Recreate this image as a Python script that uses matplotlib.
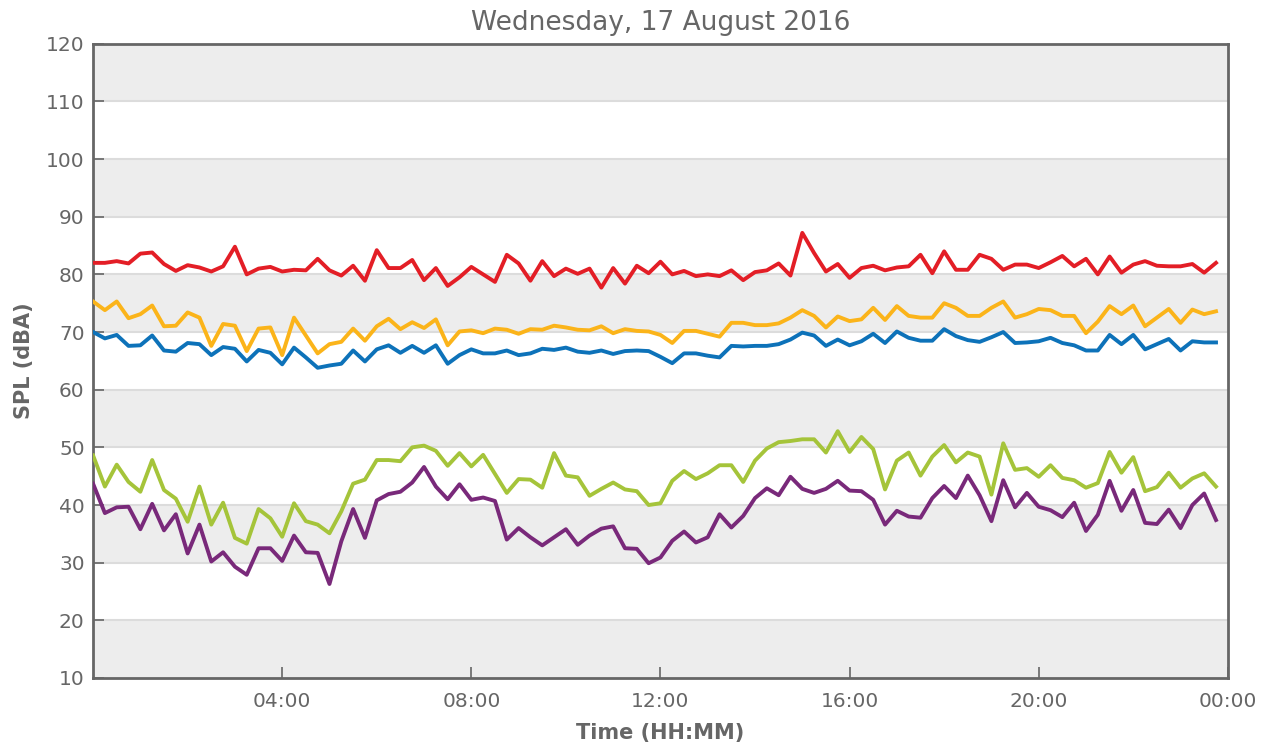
import numpy as np
import matplotlib.pyplot as plt

# 15-minute samples, 00:00 .. 23:45
hours = np.arange(96) * 0.25

red = [82.0, 82.0, 82.3, 81.9, 83.6, 83.8, 81.8, 80.6, 81.6, 81.2,
       80.5, 81.4, 84.8, 80.0, 81.0, 81.3, 80.5, 80.8, 80.7, 82.7,
       80.7, 79.8, 81.5, 78.9, 84.2, 81.1, 81.1, 82.5, 79.0, 81.1,
       78.0, 79.5, 81.3, 80.0, 78.7, 83.4, 81.9, 78.9, 82.3, 79.7,
       81.0, 80.1, 81.0, 77.7, 81.1, 78.4, 81.5, 80.2, 82.2, 80.0,
       80.6, 79.7, 80.0, 79.7, 80.7, 79.0, 80.4, 80.7, 81.9, 79.8,
       87.2, 83.7, 80.5, 81.8, 79.4, 81.1, 81.5, 80.7, 81.2, 81.4,
       83.4, 80.2, 84.0, 80.8, 80.8, 83.4, 82.7, 80.8, 81.7, 81.7,
       81.1, 82.1, 83.2, 81.4, 82.7, 80.0, 83.1, 80.3, 81.7, 82.3,
       81.5, 81.4, 81.4, 81.8, 80.3, 82.0]

yellow = [75.3, 73.8, 75.3, 72.4, 73.1, 74.6, 71.0, 71.1, 73.4, 72.5,
          67.6, 71.4, 71.1, 66.7, 70.6, 70.8, 66.0, 72.5, 69.4, 66.3,
          67.9, 68.3, 70.6, 68.5, 71.0, 72.3, 70.5, 71.7, 70.7, 72.2,
          67.7, 70.1, 70.3, 69.8, 70.6, 70.4, 69.7, 70.5, 70.4, 71.1,
          70.8, 70.4, 70.3, 71.0, 69.8, 70.5, 70.2, 70.1, 69.5, 68.1,
          70.2, 70.2, 69.7, 69.2, 71.6, 71.6, 71.2, 71.2, 71.5, 72.5,
          73.8, 72.8, 70.8, 72.7, 71.9, 72.2, 74.2, 72.1, 74.5, 72.8,
          72.5, 72.5, 75.0, 74.2, 72.8, 72.8, 74.2, 75.3, 72.5, 73.1,
          74.0, 73.8, 72.8, 72.8, 69.8, 71.8, 74.5, 73.1, 74.6, 71.0,
          72.5, 74.0, 71.6, 73.9, 73.1, 73.6]

blue = [70.0, 68.9, 69.5, 67.6, 67.7, 69.4, 66.8, 66.6, 68.1, 67.9,
        66.0, 67.4, 67.1, 64.9, 66.9, 66.4, 64.4, 67.3, 65.6, 63.8,
        64.2, 64.5, 66.8, 64.9, 67.0, 67.7, 66.4, 67.6, 66.4, 67.7,
        64.5, 66.0, 67.0, 66.3, 66.3, 66.8, 66.0, 66.3, 67.1, 66.9,
        67.3, 66.6, 66.4, 66.8, 66.2, 66.7, 66.8, 66.7, 65.7, 64.6,
        66.3, 66.3, 65.9, 65.6, 67.6, 67.5, 67.6, 67.6, 67.9, 68.7,
        69.9, 69.4, 67.6, 68.7, 67.7, 68.4, 69.7, 68.1, 70.1, 69.0,
        68.5, 68.5, 70.5, 69.3, 68.6, 68.3, 69.1, 70.0, 68.1, 68.2,
        68.4, 69.0, 68.1, 67.7, 66.8, 66.8, 69.5, 67.9, 69.5, 67.0,
        67.9, 68.8, 66.8, 68.4, 68.2, 68.2]

green = [48.6, 43.2, 47.0, 44.0, 42.3, 47.8, 42.6, 41.1, 37.1, 43.2,
         36.6, 40.4, 34.3, 33.3, 39.3, 37.7, 34.5, 40.3, 37.2, 36.6,
         35.1, 38.9, 43.7, 44.4, 47.8, 47.8, 47.6, 50.0, 50.3, 49.4,
         46.8, 49.0, 46.7, 48.7, 45.4, 42.1, 44.5, 44.4, 43.0, 49.0,
         45.1, 44.8, 41.6, 42.8, 43.9, 42.7, 42.4, 40.0, 40.3, 44.2,
         45.9, 44.5, 45.5, 46.9, 46.9, 44.0, 47.7, 49.8, 50.9, 51.1,
         51.4, 51.4, 49.1, 52.8, 49.2, 51.8, 49.7, 42.7, 47.7, 49.1,
         45.1, 48.4, 50.4, 47.4, 49.1, 48.4, 41.8, 50.7, 46.1, 46.4,
         44.9, 46.9, 44.7, 44.3, 43.0, 43.8, 49.2, 45.6, 48.3, 42.4,
         43.1, 45.6, 43.0, 44.6, 45.5, 43.2]

purple = [43.7, 38.6, 39.6, 39.7, 35.8, 40.2, 35.6, 38.4, 31.6, 36.6,
          30.2, 31.8, 29.3, 27.9, 32.5, 32.5, 30.3, 34.7, 31.8, 31.7,
          26.3, 33.7, 39.3, 34.3, 40.8, 41.9, 42.3, 43.9, 46.6, 43.2,
          41.0, 43.6, 40.9, 41.3, 40.7, 34.0, 36.0, 34.4, 33.0, 34.4,
          35.8, 33.1, 34.7, 35.9, 36.3, 32.5, 32.4, 29.9, 30.9, 33.8,
          35.4, 33.5, 34.4, 38.4, 36.1, 38.1, 41.2, 42.9, 41.7, 44.9,
          42.8, 42.1, 42.8, 44.2, 42.5, 42.4, 40.9, 36.6, 39.0, 38.0,
          37.8, 41.2, 43.3, 41.2, 45.1, 41.7, 37.2, 44.3, 39.6, 42.1,
          39.7, 39.1, 37.9, 40.4, 35.5, 38.3, 44.2, 39.0, 42.6, 36.9,
          36.7, 39.2, 36.0, 40.0, 42.0, 37.4]

x_ticks = [4, 8, 12, 16, 20, 24]
x_labels = ["04:00", "08:00", "12:00", "16:00", "20:00", "00:00"]

grey = "#666666"

fig = plt.figure(figsize=(12.75, 7.47), dpi=100)
ax = fig.add_axes([0.073, 0.0924, 0.890, 0.849])

# alternating horizontal bands
for lo in range(10, 120, 20):
    ax.axhspan(lo, lo + 10, color="#ededed", zorder=0, lw=0)
for y in range(20, 120, 10):
    ax.axhline(y, color="#dcdcdc", lw=1.5, zorder=1)

ax.plot(hours, red, color="#e31e26", lw=2.8, zorder=3)
ax.plot(hours, yellow, color="#fbb41a", lw=2.8, zorder=3)
ax.plot(hours, blue, color="#0d72b9", lw=2.8, zorder=3)
ax.plot(hours, green, color="#a5c43a", lw=2.8, zorder=3)
ax.plot(hours, purple, color="#79297a", lw=2.8, zorder=3)

ax.set_xlim(0, 24)
ax.set_ylim(10, 120)
ax.set_yticks(range(10, 121, 10))
ax.set_xticks(x_ticks)
ax.set_xticklabels(x_labels)

for s in ax.spines.values():
    s.set_color(grey)
    s.set_linewidth(2)

ax.tick_params(axis="both", direction="in", colors=grey, labelcolor=grey,
               labelsize=14.5, length=8, width=1.2)
ax.tick_params(axis="x", pad=10)
ax.tick_params(axis="y", pad=6)

ax.set_xlabel("Time (HH:MM)", fontsize=15, fontweight="bold", color=grey, labelpad=9)
ax.set_ylabel("SPL (dBA)", fontsize=15, fontweight="bold", color=grey, labelpad=9)
ax.set_title("Wednesday, 17 August 2016", fontsize=19, color=grey, pad=10)

plt.savefig("out.png", dpi=100)
